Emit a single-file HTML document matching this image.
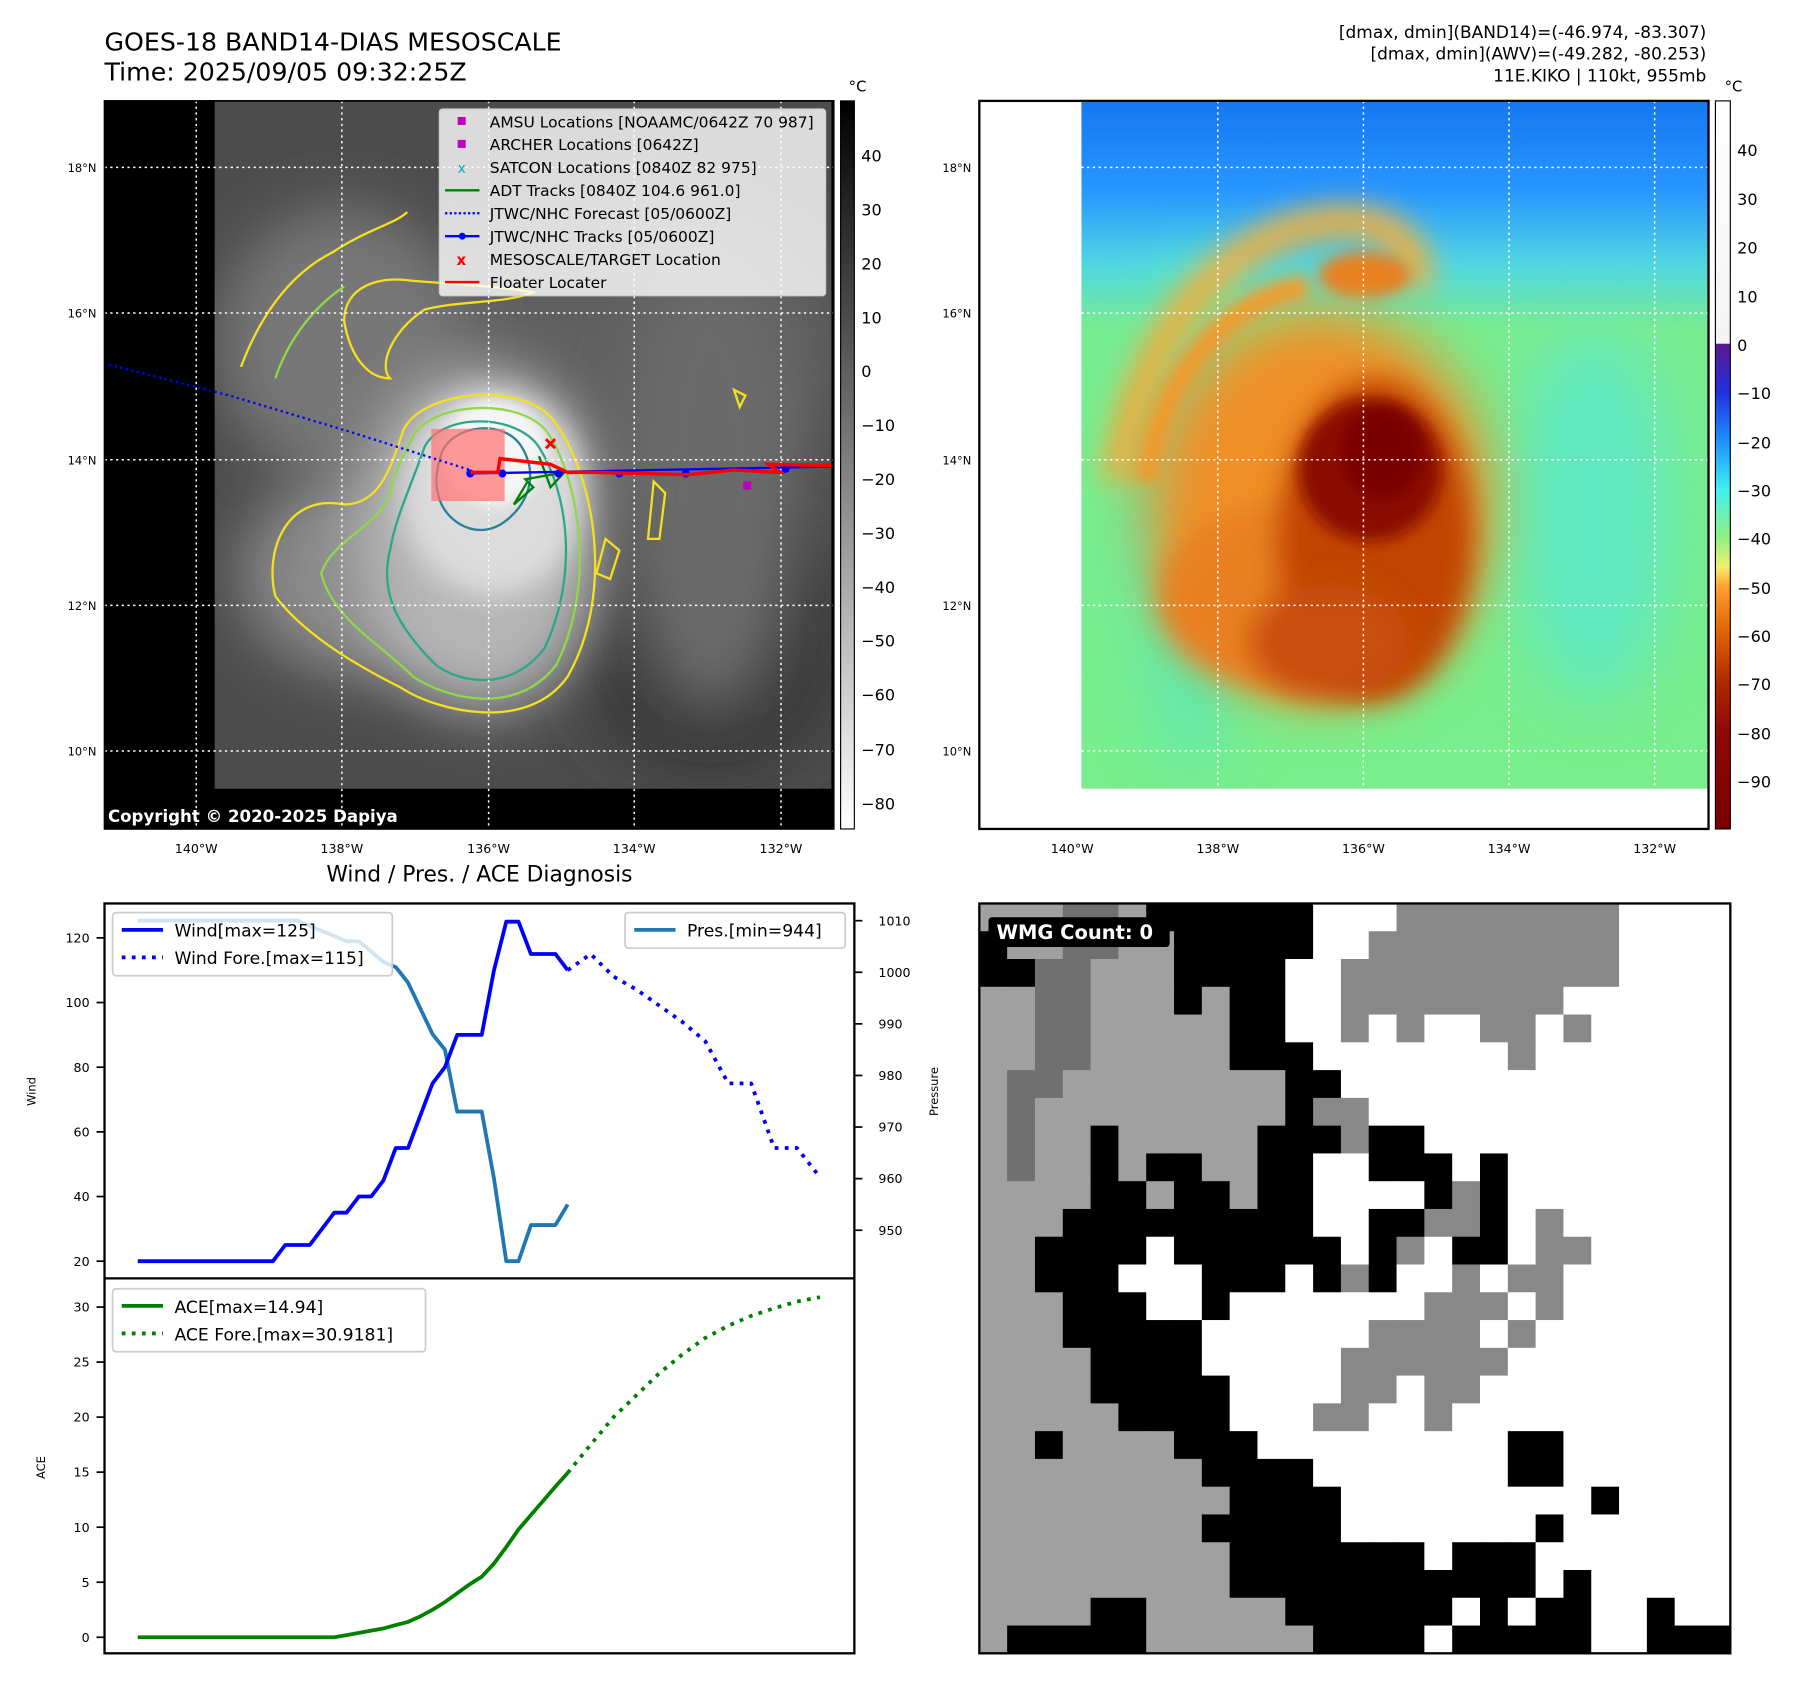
<!DOCTYPE html>
<html><head><meta charset="utf-8">
<style>
html,body{margin:0;padding:0;background:#fff;}
svg{display:block;font-family:"DejaVu Sans","Liberation Sans",sans-serif;}
</style></head>
<body>
<svg id="root" width="1797" height="1690" viewBox="0 0 1567 1474" xmlns="http://www.w3.org/2000/svg">
<defs>
  <filter id="b6" x="-50%" y="-50%" width="200%" height="200%"><feGaussianBlur stdDeviation="6"/></filter>
  <filter id="b12" x="-50%" y="-50%" width="200%" height="200%"><feGaussianBlur stdDeviation="12"/></filter>
  <filter id="b25" x="-50%" y="-50%" width="200%" height="200%"><feGaussianBlur stdDeviation="25"/></filter>
  <clipPath id="clipL"><rect x="187" y="88" width="538" height="600"/></clipPath>
  <clipPath id="clipR"><rect x="943" y="88" width="547" height="600"/></clipPath>
  <linearGradient id="cbGray" x1="0" y1="0" x2="0" y2="1">
    <stop offset="0" stop-color="#000"/><stop offset="1" stop-color="#fff"/>
  </linearGradient>
  <linearGradient id="cbColor" x1="0" y1="0" x2="0" y2="1">
    <stop offset="0" stop-color="#ffffff"/>
    <stop offset="0.333" stop-color="#f4f4f4"/>
    <stop offset="0.334" stop-color="#5a1a8a"/>
    <stop offset="0.40" stop-color="#2030e0"/>
    <stop offset="0.467" stop-color="#1e90ff"/>
    <stop offset="0.533" stop-color="#40f0f0"/>
    <stop offset="0.60" stop-color="#90f080"/>
    <stop offset="0.64" stop-color="#f0f070"/>
    <stop offset="0.667" stop-color="#ffa030"/>
    <stop offset="0.733" stop-color="#e06000"/>
    <stop offset="0.80" stop-color="#b02800"/>
    <stop offset="0.867" stop-color="#900808"/>
    <stop offset="1" stop-color="#7a0000"/>
  </linearGradient>
  <linearGradient id="skyR" x1="0" y1="0" x2="0" y2="1">
    <stop offset="0" stop-color="#1478f0"/>
    <stop offset="0.13" stop-color="#2896ff"/>
    <stop offset="0.24" stop-color="#50d8e0"/>
    <stop offset="0.33" stop-color="#78ec90"/>
    <stop offset="1" stop-color="#78ee8c"/>
  </linearGradient>
</defs>

<text x="91" y="44" font-size="22" fill="#000">GOES-18 BAND14-DIAS MESOSCALE</text>
<text x="91" y="70" font-size="22" fill="#000">Time: 2025/09/05 09:32:25Z</text>
<g font-size="14.8" text-anchor="end" fill="#000">
  <text x="1488" y="33">[dmax, dmin](BAND14)=(-46.974, -83.307)</text>
  <text x="1488" y="52">[dmax, dmin](AWV)=(-49.282, -80.253)</text>
  <text x="1488" y="71">11E.KIKO | 110kt, 955mb</text>
</g>

<!-- LEFT MAP -->
<g>
  <rect x="91" y="88" width="636" height="635" fill="#000"/>
  <g clip-path="url(#clipL)">
    <rect x="187" y="88" width="538" height="600" fill="#4c4c4c"/>
    <ellipse cx="560" cy="300" rx="180" ry="140" fill="#5e5e5e" filter="url(#b25)"/>
    <ellipse cx="620" cy="560" rx="120" ry="120" fill="#3a3a3a" filter="url(#b25)"/>
    <ellipse cx="300" cy="300" rx="110" ry="120" fill="#777" filter="url(#b25)"/>
    <ellipse cx="320" cy="500" rx="110" ry="90" fill="#8a8a8a" filter="url(#b25)"/>
    <ellipse cx="420" cy="470" rx="110" ry="150" fill="#b5b5b5" filter="url(#b25)"/>
    <ellipse cx="430" cy="430" rx="80" ry="90" fill="#dcdcdc" filter="url(#b12)"/>
    <ellipse cx="430" cy="395" rx="45" ry="45" fill="#f6f6f6" filter="url(#b6)"/>
    <ellipse cx="620" cy="420" rx="80" ry="200" fill="#6a6a6a" filter="url(#b25)"/>
    <g fill="none" stroke-width="2">
      <path d="M350,380 C360,340 460,330 485,370 C520,420 535,520 495,590 C460,640 380,620 350,600 C330,590 270,560 240,520 C230,480 250,430 300,440 C330,440 340,410 350,380Z" stroke="#f5e020"/>
      <path d="M358,385 C370,350 455,345 478,378 C505,420 520,510 485,580 C450,625 390,610 360,590 C330,560 290,540 280,500 C290,470 330,460 340,430 C345,410 350,400 358,385Z" stroke="#8ed84a"/>
      <path d="M370,390 C385,360 450,360 470,390 C495,430 505,500 475,565 C445,605 400,595 380,580 C350,550 330,520 340,480 C345,450 360,420 370,390Z" stroke="#2aa88a"/>
      <path d="M385,395 C395,370 440,365 455,390 C470,415 460,440 440,455 C420,470 395,460 385,440 C378,425 380,410 385,395Z" stroke="#2a7f9a"/>
      <path d="M300,280 C300,250 330,240 360,245 C400,248 440,250 465,255 C440,265 400,262 370,270 C340,290 330,320 340,330 C320,330 305,310 300,280Z" stroke="#f5e020"/>
      <path d="M210,320 C225,280 250,240 290,220 C320,200 345,195 355,185" stroke="#f5e020"/>
      <path d="M240,330 C250,300 270,270 300,250" stroke="#8ed84a"/>
      <path d="M520,500 L528,470 L540,480 L532,505Z M570,420 L580,430 L575,470 L565,470Z M640,340 L650,345 L645,355Z" stroke="#f5e020"/>
    </g>
  </g>
  <g stroke="#fff" stroke-width="1.3" stroke-dasharray="2,3">
    <line x1="91" x2="727" y1="146" y2="146"/><line x1="91" x2="727" y1="273" y2="273"/>
    <line x1="91" x2="727" y1="401" y2="401"/><line x1="91" x2="727" y1="528" y2="528"/>
    <line x1="91" x2="727" y1="655" y2="655"/>
    <line y1="88" y2="723" x1="171" x2="171"/><line y1="88" y2="723" x1="298" x2="298"/>
    <line y1="88" y2="723" x1="426" x2="426"/><line y1="88" y2="723" x1="553" x2="553"/>
    <line y1="88" y2="723" x1="681" x2="681"/>
  </g>
  <rect x="376" y="374" width="64" height="63" fill="#ff7070" opacity="0.7"/>
  <polyline points="95,318 200,345 300,375 410,410" fill="none" stroke="#0000ff" stroke-width="2" stroke-dasharray="2,3"/>
  <polyline points="470,398 480,425 492,412 458,418 465,425 448,440 460,420" fill="none" stroke="#008000" stroke-width="2"/>
  <polyline points="410,413 725,407" fill="none" stroke="#0000ff" stroke-width="2"/>
  <g fill="#0000ff">
    <circle cx="410" cy="413" r="3.5"/><circle cx="438" cy="413" r="3.5"/><circle cx="487" cy="413" r="3.5"/><circle cx="540" cy="413" r="3.5"/><circle cx="598" cy="413" r="3.5"/><circle cx="685" cy="409" r="3.5"/>
  </g>
  <polyline points="410,412 434,412 436,400 480,405 495,412 520,412 600,414 640,410 680,412 670,405 725,406" fill="none" stroke="#ff0000" stroke-width="3"/>
  <g stroke="#ff0000" stroke-width="2.5">
    <line x1="476" y1="383" x2="484" y2="391"/><line x1="484" y1="383" x2="476" y2="391"/>
  </g>
  <rect x="648" y="420" width="7" height="7" fill="#c000c0"/>
  <g>
    <rect x="383" y="95" width="337" height="163" rx="3" fill="#fff" fill-opacity="0.8" stroke="#ccc"/>
    <g font-size="13.5" fill="#000">
      <rect x="399" y="102" width="7" height="7" fill="#c000c0"/><text x="427" y="111">AMSU Locations [NOAAMC/0642Z 70 987]</text>
      <rect x="399" y="122" width="7" height="7" fill="#c000c0"/><text x="427" y="131">ARCHER Locations [0642Z]</text>
      <text x="399" y="151" fill="#00b0b0" font-size="12">x</text><text x="427" y="151">SATCON Locations [0840Z 82 975]</text>
      <line x1="388" x2="418" y1="166" y2="166" stroke="#008000" stroke-width="2"/><text x="427" y="171">ADT Tracks [0840Z 104.6 961.0]</text>
      <line x1="388" x2="418" y1="186" y2="186" stroke="#0000ff" stroke-width="2" stroke-dasharray="2,2"/><text x="427" y="191">JTWC/NHC Forecast [05/0600Z]</text>
      <line x1="388" x2="418" y1="206" y2="206" stroke="#0000ff" stroke-width="2"/><circle cx="403" cy="206" r="3" fill="#0000ff"/><text x="427" y="211">JTWC/NHC Tracks [05/0600Z]</text>
      <text x="398" y="231" fill="#ff0000" font-weight="bold" font-size="13">x</text><text x="427" y="231">MESOSCALE/TARGET Location</text>
      <line x1="388" x2="418" y1="246" y2="246" stroke="#ff0000" stroke-width="2"/><text x="427" y="251">Floater Locater</text>
    </g>
  </g>
  <text x="94" y="717" font-size="14.5" font-weight="bold" fill="#fff">Copyright © 2020-2025 Dapiya</text>
  <rect x="91" y="88" width="636" height="635" fill="none" stroke="#000" stroke-width="1.5"/>
</g>
<g font-size="10" text-anchor="end" fill="#000">
  <text x="84" y="150">18°N</text><text x="84" y="277">16°N</text><text x="84" y="405">14°N</text><text x="84" y="532">12°N</text><text x="84" y="659">10°N</text>
</g>
<g font-size="11" text-anchor="middle" fill="#000">
  <text x="171" y="744">140°W</text><text x="298" y="744">138°W</text><text x="426" y="744">136°W</text><text x="553" y="744">134°W</text><text x="681" y="744">132°W</text>
</g>
<g>
  <rect x="733" y="88" width="12" height="635" fill="url(#cbGray)" stroke="#000" stroke-width="1"/>
  <text x="740" y="80" font-size="13">°C</text>
  <g font-size="14" fill="#000">
    <text x="751" y="141">40</text><text x="751" y="188">30</text><text x="751" y="235">20</text><text x="751" y="282">10</text><text x="751" y="329">0</text>
    <text x="751" y="376">−10</text><text x="751" y="423">−20</text><text x="751" y="470">−30</text><text x="751" y="517">−40</text><text x="751" y="564">−50</text><text x="751" y="611">−60</text><text x="751" y="659">−70</text><text x="751" y="706">−80</text>
  </g>
</g>

<!-- RIGHT MAP -->
<g>
  <rect x="854" y="88" width="636" height="635" fill="#fff"/>
  <g clip-path="url(#clipR)">
    <rect x="943" y="88" width="547" height="600" fill="url(#skyR)"/>
    <ellipse cx="1040" cy="450" rx="50" ry="220" fill="#60e8b0" filter="url(#b25)"/>
    <ellipse cx="1390" cy="450" rx="70" ry="160" fill="#60e8c0" filter="url(#b25)"/>
    <path d="M975,420 C990,300 1060,210 1150,195 C1210,185 1240,215 1235,250" fill="none" stroke="#f0b040" stroke-width="28" filter="url(#b12)"/>
    <path d="M1000,420 C1010,330 1070,260 1140,250" fill="none" stroke="#f0a030" stroke-width="20" filter="url(#b6)"/>
    <ellipse cx="1190" cy="240" rx="40" ry="20" fill="#e88020" filter="url(#b6)"/>
    <ellipse cx="1150" cy="440" rx="150" ry="170" fill="#f09028" filter="url(#b25)"/>
    <ellipse cx="1120" cy="520" rx="110" ry="80" fill="#e88020" filter="url(#b12)"/>
    <ellipse cx="1200" cy="470" rx="85" ry="140" fill="#c04400" filter="url(#b12)"/>
    <ellipse cx="1160" cy="560" rx="70" ry="50" fill="#c85010" filter="url(#b12)"/>
    <ellipse cx="1195" cy="410" rx="62" ry="62" fill="#8a0800" filter="url(#b6)"/>
    <ellipse cx="1205" cy="395" rx="35" ry="40" fill="#7a0000" filter="url(#b6)"/>
  </g>
  <rect x="943" y="688" width="547" height="35" fill="#fff"/>
  <g stroke="#fff" stroke-width="1.3" stroke-dasharray="2,3">
    <line x1="943" x2="1490" y1="146" y2="146"/><line x1="943" x2="1490" y1="273" y2="273"/>
    <line x1="943" x2="1490" y1="401" y2="401"/><line x1="943" x2="1490" y1="528" y2="528"/>
    <line x1="943" x2="1490" y1="655" y2="655"/>
    <line y1="88" y2="688" x1="1062" x2="1062"/><line y1="88" y2="688" x1="1189" x2="1189"/>
    <line y1="88" y2="688" x1="1316" x2="1316"/><line y1="88" y2="688" x1="1443" x2="1443"/>
  </g>
  <rect x="854" y="88" width="636" height="635" fill="none" stroke="#000" stroke-width="2"/>
</g>
<g font-size="10" text-anchor="end" fill="#000">
  <text x="847" y="150">18°N</text><text x="847" y="277">16°N</text><text x="847" y="405">14°N</text><text x="847" y="532">12°N</text><text x="847" y="659">10°N</text>
</g>
<g font-size="11" text-anchor="middle" fill="#000">
  <text x="935" y="744">140°W</text><text x="1062" y="744">138°W</text><text x="1189" y="744">136°W</text><text x="1316" y="744">134°W</text><text x="1443" y="744">132°W</text>
</g>
<g>
  <rect x="1496" y="88" width="13" height="635" fill="url(#cbColor)" stroke="#000" stroke-width="1"/>
  <text x="1504" y="80" font-size="13">°C</text>
  <g font-size="14" fill="#000">
    <text x="1515" y="136">40</text><text x="1515" y="179">30</text><text x="1515" y="221">20</text><text x="1515" y="264">10</text><text x="1515" y="306">0</text>
    <text x="1515" y="348">−10</text><text x="1515" y="391">−20</text><text x="1515" y="433">−30</text><text x="1515" y="475">−40</text><text x="1515" y="518">−50</text><text x="1515" y="560">−60</text><text x="1515" y="602">−70</text><text x="1515" y="645">−80</text><text x="1515" y="687">−90</text>
  </g>
</g>

<!-- DIAGNOSIS CHART -->
<text x="418" y="769" font-size="19" text-anchor="middle">Wind / Pres. / ACE Diagnosis</text>
<g id="chart">
  <rect x="91" y="788" width="654" height="654" fill="#fff"/>
  <g id="marks"></g>
  <g id="axes"></g>
  <line x1="91" x2="745" y1="1115" y2="1115" stroke="#000" stroke-width="2"/>
  <rect x="91" y="788" width="654" height="654" fill="none" stroke="#000" stroke-width="2"/>
  <text transform="translate(31,952) rotate(-90)" font-size="10" text-anchor="middle">Wind</text>
  <text transform="translate(818,952) rotate(-90)" font-size="10" text-anchor="middle">Pressure</text>
  <text transform="translate(39,1280) rotate(-90)" font-size="10" text-anchor="middle">ACE</text>
  <g id="legends"></g>
</g>

<g id="wmg"></g>
<rect x="854" y="788" width="655" height="654" fill="none" stroke="#000" stroke-width="2"/>
<rect x="862" y="800" width="158" height="26" rx="3" fill="#000"/>
<text x="869" y="819" font-size="17" font-weight="bold" fill="#fff">WMG Count: 0</text>
</svg>

<script>
// ---- chart data ----
const windObs = [20,20,20,20,20,20,20,20,20,20,20,20,25,25,25,30,35,35,40,40,45,55,55,65,75,80,90,90,90,110,125,125,115,115,115,110];
const presObs = [1010,1010,1010,1010,1010,1010,1010,1010,1010,1010,1010,1010,1010,1010,1009,1008,1007,1006,1006,1004,1002,1001,998,993,988,985,973,973,973,960,944,944,951,951,951,955];
const aceObs = [0,0,0,0,0,0,0,0,0,0,0,0,0,0,0,0,0,0.2,0.4,0.6,0.8,1.1,1.4,1.9,2.5,3.2,4.0,4.8,5.5,6.7,8.2,9.8,11.1,12.4,13.7,14.94];
const windFore = [110,115,108,104,99,94,88,75,75,55,55,46];
const aceFore = [14.94,17.5,20,22,24,25.7,27.2,28.3,29.2,29.9,30.5,30.9];
const windTicks = [20,40,60,80,100,120];
const presTicks = [950,960,970,980,990,1000,1010];
const aceTicks = [0,5,10,15,20,25,30];

const NS = 'http://www.w3.org/2000/svg';
function mk(tag, attrs, parent){const e=document.createElementNS(NS,tag);for(const k in attrs)e.setAttribute(k,attrs[k]);parent.appendChild(e);return e;}
const xObs = i => 120 + i*(375/(windObs.length-1));
const xFore = j => 495 + j*20;
const yWind = v => 1100 - (v-20)*2.82;
const yPres = p => 803 + (1010-p)*4.5;
const yAce = v => 1428 - v*9.6;

const marks = document.getElementById('marks');
const axes = document.getElementById('axes');
function line(pts, color, dash, name){
  const el = mk('polyline',{points:pts.map(p=>p[0].toFixed(1)+','+p[1].toFixed(1)).join(' '),fill:'none',stroke:color,'stroke-width':3.3,'stroke-linejoin':'round'},marks);
  if(dash) el.setAttribute('stroke-dasharray',dash);
  
  
}
line(presObs.map((v,i)=>[xObs(i),yPres(v)]),'#1f77b4',null,'pressure-line');
line(windObs.map((v,i)=>[xObs(i),yWind(v)]),'#0000ff',null,'wind-line');
line(windFore.map((v,j)=>[xFore(j),yWind(v)]),'#0000ff','3.3,5.5','wind-forecast-line');
line(aceObs.map((v,i)=>[xObs(i),yAce(v)]),'#008000',null,'ace-line');
line(aceFore.map((v,j)=>[xFore(j),yAce(v)]),'#008000','3.3,5.5','ace-forecast-line');

function tick(x1,x2,y,label,tx,anchor,name){
  mk('line',{x1:x1,x2:x2,y1:y,y2:y,stroke:'#000','stroke-width':1.5},axes);
  const t = mk('text',{x:tx,y:y+4,'font-size':11,'text-anchor':anchor},axes);
  t.textContent = label;
  
  
}
windTicks.forEach(v=>tick(84,91,yWind(v),v,78,'end','wind-tick-label'));
presTicks.forEach(v=>tick(745,752,yPres(v),v,766,'start','pressure-tick-label'));
aceTicks.forEach(v=>tick(84,91,yAce(v),v,78,'end','ace-tick-label'));

const lg = document.getElementById('legends');
function legendBox(x,y,w,h,name,items){
  const g = mk('g',{},lg);
  
  
  mk('rect',{x:x,y:y,width:w,height:h,rx:3,fill:'#fff','fill-opacity':0.8,stroke:'#ccc','stroke-width':1.5},g);
  items.forEach((it,k)=>{
    const yy = y+15+k*24;
    const l = mk('line',{x1:x+8,x2:x+44,y1:yy,y2:yy,stroke:it.c,'stroke-width':3.3},g);
    if(it.d) l.setAttribute('stroke-dasharray','3.3,5.5');
    const t = mk('text',{x:x+54,y:yy+6,'font-size':15},g);
    t.textContent = it.t;
  });
}
legendBox(98,796,244,55,'wind-legend',[{c:'#0000ff',t:'Wind[max=125]'},{c:'#0000ff',t:'Wind Fore.[max=115]',d:1}]);
legendBox(545,796,192,31,'pressure-legend',[{c:'#1f77b4',t:'Pres.[min=944]'}]);
legendBox(98,1124,273,55,'ace-legend',[{c:'#008000',t:'ACE[max=14.94]'},{c:'#008000',t:'ACE Fore.[max=30.9181]',d:1}]);

// ---- WMG grid ----
const wmgRows = [
"LLLDDLKKKKKKWWWMMMMMMMMWWWW",
"KLLDDLLKKKKKWWMMMMMMMMMWWWW",
"KKDDLLLKKKKWWMMMMMMMMMMWWWW",
"LLDDLLLKLKKWWMMMMMMMMWWWWWW",
"LLDDLLLLLKKWWMWMWWMMWMWWWWW",
"LLDDLLLLLKKKWWWWWWWMWWWWWWW",
"LDDLLLLLLLLKKWWWWWWWWWWWWWW",
"LDLLLLLLLLLKMMWWWWWWWWWWWWW",
"LDLLKLLLLLKKKMKKWWWWWWWWWWW",
"LDLLKLKKLLKKWWKKKWKWWWWWWWW",
"LLLLKKLKKLKKWWWWKMKWWWWWWWW",
"LLLKKKKKKKKKWWKKMMKWMWWWWWW",
"LLKKKKWKKKKKKWKMWKKWMMWWWWW",
"LLKKKWWWKKKWKMKWWMWMMWWWWWW",
"LLLKKKWWKWWWWWWWMMMWMWWWWWW",
"LLLKKKKKWWWWWWMMMMWMWWWWWWW",
"LLLLKKKKWWWWWMMMMMMWWWWWWWW",
"LLLLKKKKKWWWWMMWMMWWWWWWWWW",
"LLLLLKKKKWWWMMWWMWWWWWWWWWW",
"LLKLLLLKKKWWWWWWWWWKKWWWWWW",
"LLLLLLLLKKKKWWWWWWWKKWWWWWW",
"LLLLLLLLLKKKKWWWWWWWWWKWWWW",
"LLLLLLLLKKKKKWWWWWWWKWWWWWW",
"LLLLLLLLLKKKKKKKWKKKWWWWWWW",
"LLLLLLLLLKKKKKKKKKKKWKWWWWW",
"LLLLKKLLLLLKKKKKKWKWKKWWKWW",
"LKKKKKLLLLLLKKKKWKKKKKWWKKK"];
const wmgColors = {K:'#000000',L:'#a0a0a0',M:'#888888',D:'#707070',W:'#ffffff'};
const wmg = document.getElementById('wmg');
const cw = 655/27, ch = 654/27;
wmgRows.forEach((row,r)=>{
  for(let c=0;c<row.length;c++){
    const cell = mk('rect',{x:(854+c*cw).toFixed(2),y:(788+r*ch).toFixed(2),width:(cw+0.4).toFixed(2),height:(ch+0.4).toFixed(2),fill:wmgColors[row[c]]},wmg);
    
    
  }
});
</script>
</body></html>
